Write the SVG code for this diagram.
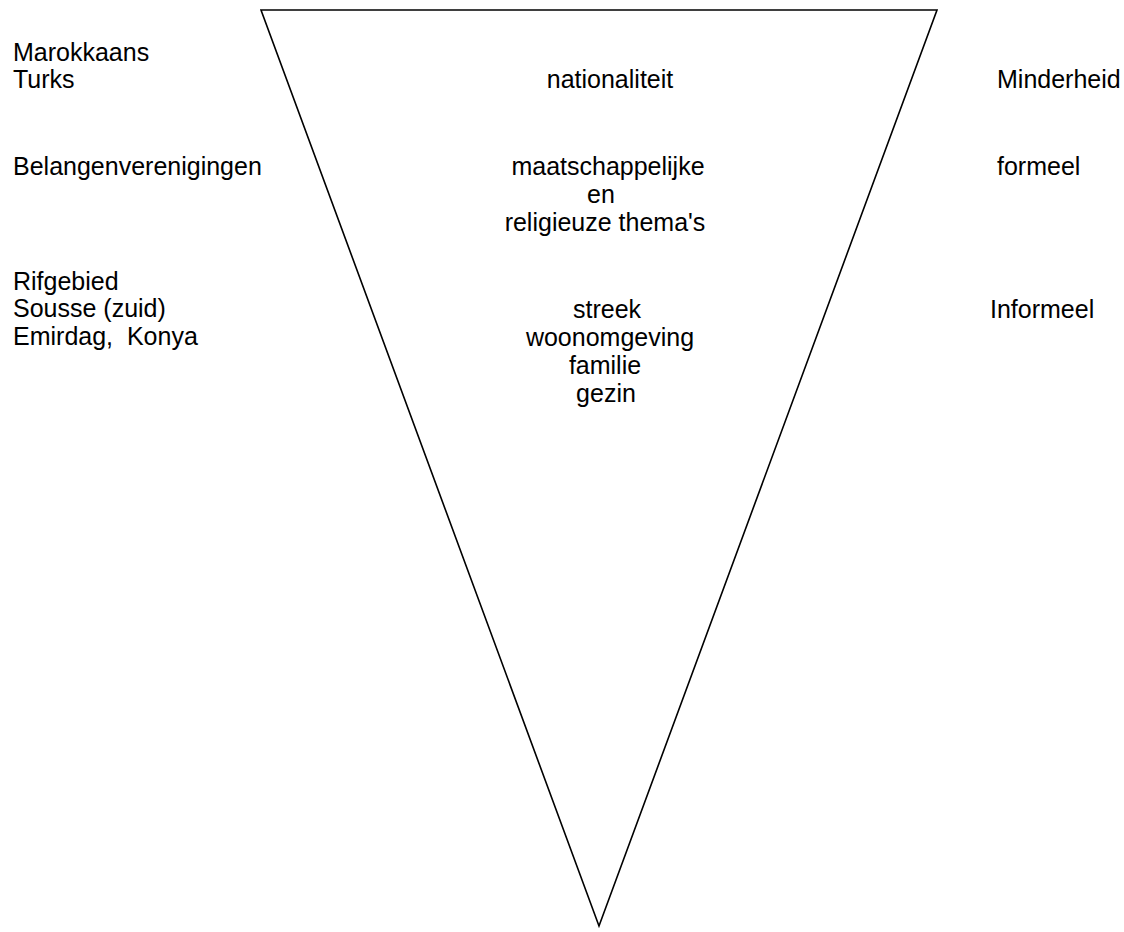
<svg xmlns="http://www.w3.org/2000/svg" width="1124" height="932" viewBox="0 0 1124 932">
<style>
text{font-family:"Liberation Sans",Arial,sans-serif;font-size:25px;fill:#000}
.c{text-anchor:middle}
.tri{fill:none;stroke:#000;stroke-width:1.6;stroke-linejoin:miter}
</style>
<rect width="1124" height="932" fill="#fff"/>
<g id="triangle"><polygon class="tri" points="261,10 937,10 599,926"/></g>
<g id="left">
<text x="13" y="61">Marokkaans</text>
<text x="13" y="88">Turks</text>
<text x="13" y="175">Belangenverenigingen</text>
<text x="13" y="290">Rifgebied</text>
<text x="13" y="317">Sousse (zuid)</text>
<text x="13" y="345" xml:space="preserve">Emirdag,  Konya</text>
</g>
<g id="center">
<text class="c" x="610" y="88">nationaliteit</text>
<text class="c" x="608" y="175">maatschappelijke</text>
<text class="c" x="601" y="203">en</text>
<text class="c" x="605" y="231">religieuze thema's</text>
<text class="c" x="607" y="318">streek</text>
<text class="c" x="610" y="346">woonomgeving</text>
<text class="c" x="605" y="374">familie</text>
<text class="c" x="606" y="402">gezin</text>
</g>
<g id="right">
<text x="997" y="88">Minderheid</text>
<text x="997" y="175">formeel</text>
<text x="990" y="318">Informeel</text>
</g>
</svg>
